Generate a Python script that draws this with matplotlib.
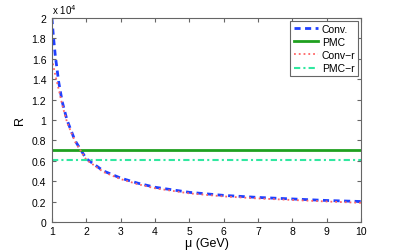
import numpy as np
import matplotlib.pyplot as plt

plt.rcParams['font.family'] = ['Liberation Sans', 'DejaVu Sans']

# values, R in units of 1e4
mu = [1.0, 1.05, 1.1, 1.2, 1.3, 1.44, 1.67, 2.0, 2.5, 3.0, 3.5, 4.0, 5.0, 6.0, 7.0, 8.0, 9.0, 10.0]
conv = [2.0, 1.8, 1.63, 1.37, 1.18, 1.0, 0.8, 0.62, 0.50, 0.43, 0.38, 0.34, 0.29, 0.26, 0.24, 0.225, 0.21, 0.20]
conv_r = [1.6, 1.52, 1.44, 1.3, 1.15, 0.98, 0.79, 0.61, 0.49, 0.42, 0.37, 0.33, 0.28, 0.25, 0.23, 0.215, 0.20, 0.187]
pmc = 0.71
pmc_r = 0.61

fig = plt.figure(figsize=(3.99, 2.51), dpi=100)
ax = fig.add_axes([0.130, 0.112, 0.775, 0.812])

ax.plot(mu, conv, color='#2040ff', lw=2.0, dashes=(2.2, 1.6), label='Conv.')
ax.plot([1, 10], [pmc, pmc], '-', color='#1fa01f', lw=2.0, label='PMC')
ax.plot(mu, conv_r, ':', color='#ff6666', lw=1.3, label='Conv\u2212r')
ax.plot([1, 10], [pmc_r, pmc_r], color='#30e8a0', lw=1.5, dashes=(3, 1.5, 1, 1.5), label='PMC\u2212r')

ax.set_xlim(1, 10)
ax.set_ylim(0, 2)
ax.set_xticks(range(1, 11))
ax.set_yticks(np.arange(0, 2.01, 0.2))
ax.set_yticklabels(['0', '0.2', '0.4', '0.6', '0.8', '1', '1.2', '1.4', '1.6', '1.8', '2'])
ax.tick_params(direction='in', top=True, right=True, labelsize=7.5, length=3,
               color='#666666')
ax.tick_params(axis='x', pad=3)
ax.tick_params(axis='y', pad=4)
for s in ax.spines.values():
    s.set_color('#666666')
    s.set_linewidth(0.8)

ax.set_xlabel('\u03bc (GeV)', fontsize=9, labelpad=1)
ax.set_ylabel('R', fontsize=9, labelpad=4)
ax.text(0.0, 1.01, r'x 10$^4$', transform=ax.transAxes, fontsize=7, va='bottom', ha='left')

leg = ax.legend(loc='upper right', fontsize=7.5, handlelength=2.3, borderaxespad=0.25,
                fancybox=False, framealpha=1, edgecolor='#666666',
                borderpad=0.3, labelspacing=0.3, handletextpad=0.4)
leg.get_frame().set_linewidth(0.8)

fig.savefig('out.png', dpi=100)
